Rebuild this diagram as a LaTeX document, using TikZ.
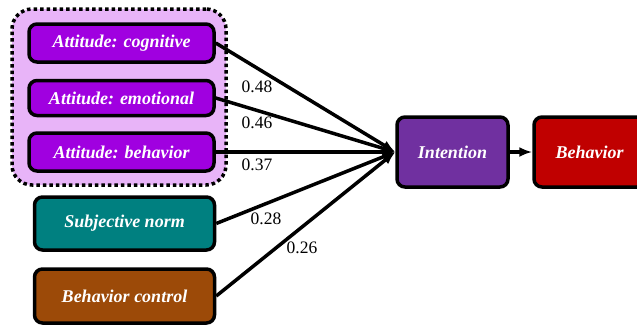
\documentclass[tikz,border=0pt]{standalone}
\usepackage{fontspec}
\setmainfont{Liberation Serif}
\usetikzlibrary{arrows.meta,positioning}
\definecolor{AttViolet}{HTML}{A000E0}
\definecolor{GrpLilac}{HTML}{E8B4F8}
\definecolor{NormTeal}{HTML}{008080}
\definecolor{CtrlBrown}{HTML}{9C4A08}
\definecolor{IntPurple}{HTML}{7030A0}
\definecolor{BhvRed}{HTML}{C00000}

\begin{document}
\begin{tikzpicture}[x=1pt,y=-1pt,
  box/.style={draw,line width=3.5pt,rounded corners=8pt,text=white,
    font=\fontsize{18}{20}\selectfont\bfseries\itshape,inner sep=0pt},
  weight/.style={font=\fontsize{17.5}{20}\selectfont},
  path/.style={line width=3.5pt,-{Latex[length=13pt,width=10pt]}}]
  \useasboundingbox (0,0) rectangle (637,327);
  % attitude group
  \node[draw,dash pattern=on 3.5pt off 3pt,line width=3.5pt,rounded corners=20pt,fill=GrpLilac,
    minimum width=214,minimum height=176] (grp) at (119,97) {};
  \node[box,fill=AttViolet,minimum width=185,minimum height=38] (cog) at (121.5,43) {Attitude: cognitive};
  \node[box,fill=AttViolet,minimum width=185,minimum height=35] (emo) at (121.5,98) {Attitude: emotional};
  \node[box,fill=AttViolet,minimum width=185,minimum height=38] (att) at (121.5,152) {Attitude: behavior};
  \node[box,fill=NormTeal,minimum width=180,minimum height=53] (norm) at (124.5,223.5) {Subjective norm};
  \node[box,fill=CtrlBrown,minimum width=180,minimum height=54] (ctrl) at (124.5,296) {Behavior control};
  \node[box,fill=IntPurple,minimum width=111,minimum height=70] (int) at (452.5,152) {Intention};
  \node[box,fill=BhvRed,minimum width=111,minimum height=70] (bhv) at (589.5,152) {Behavior};
  % paths with weights
  \foreach \src in {cog,emo,att,norm,ctrl}
    \draw[path] (\src.east) -- (int.west);
  \draw[path] (int) -- (bhv);
  \node[weight] (w1) at (257,87) {0.48};
  \node[weight] (w2) at (257,123) {0.46};
  \node[weight] (w3) at (257,165) {0.37};
  \node[weight] (w4) at (266,219) {0.28};
  \node[weight] (w5) at (302,248) {0.26};
\end{tikzpicture}
\end{document}
